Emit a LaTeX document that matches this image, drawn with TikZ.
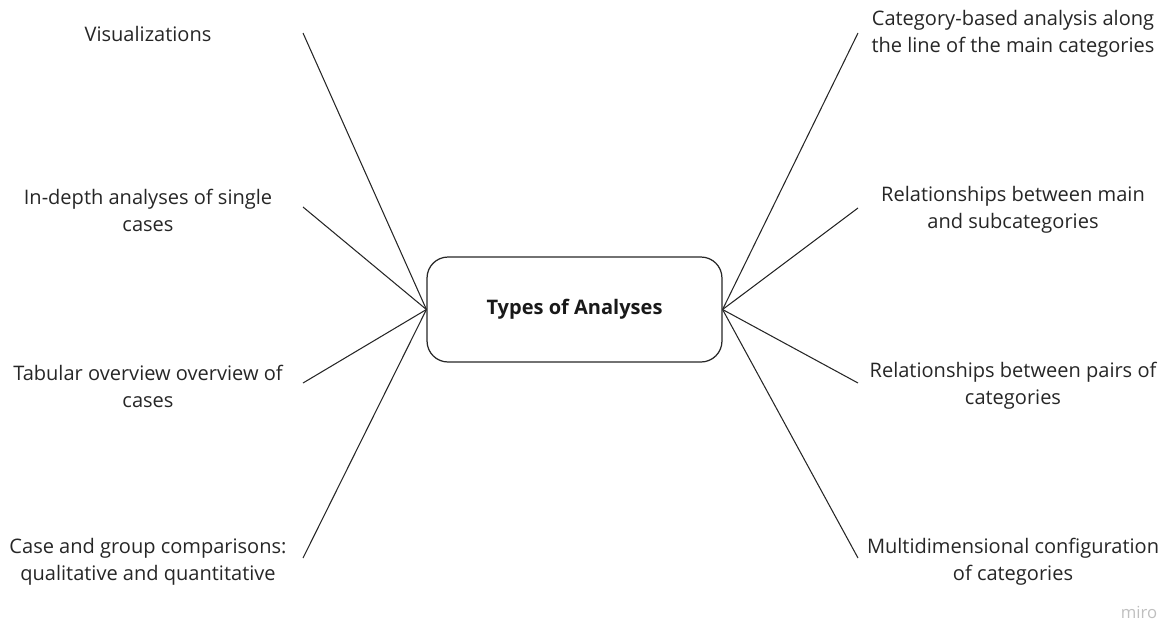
\documentclass[tikz,border=0pt]{standalone}
\usepackage{fontspec}
\setmainfont{Open Sans}
\begin{document}
\begin{tikzpicture}[x=0.02cm,y=-0.02cm,
    topic/.style={align=center,font=\fontsize{11.4}{15.3}\selectfont,text=black!85},
    hub/.style={draw=black!85,line width=0.7pt,rounded corners=0.42cm,minimum width=5.9cm,minimum height=2.1cm,font=\bfseries\fontsize{11.4}{13}\selectfont,text=black!90},
    spoke/.style={draw=black!85,line width=0.6pt}]
    \useasboundingbox (0,0) rectangle (1165,620);
    \node [hub] (hub) at (574.5,309.5) {Types of Analyses};
    % left side
    \node [topic] (vis) at (148,34) {Visualizations};
    \node [topic] (depth) at (148,210) {In-depth analyses of single\\cases};
    \node [topic] (tab) at (148,386) {Tabular overview overview of\\cases};
    \node [topic] (comp) at (148,562) {Case and group comparisons:\\qualitative and quantitative};
    % right side
    \node [topic] (cat) at (1013,34) {Category-based analysis along\\the line of the main categories};
    \node [topic] (sub) at (1013,210) {Relationships between main\\and subcategories};
    \node [topic] (pairs) at (1013,386) {Relationships between pairs of\\categories};
    \node [topic] (multi) at (1013,562) {Multidimensional configuration\\of categories};
    % free ends of the spokes
    \coordinate (l1) at (303,33);
    \coordinate (l2) at (303,207);
    \coordinate (l3) at (303,383);
    \coordinate (l4) at (303,558);
    \coordinate (r1) at (858,33);
    \coordinate (r2) at (858,208);
    \coordinate (r3) at (858,383);
    \coordinate (r4) at (858,558);
    \foreach \e in {l1,l2,l3,l4}
        \draw [spoke] (hub.west) -- (\e);
    \foreach \e in {r1,r2,r3,r4}
        \draw [spoke] (hub.east) -- (\e);
    \node [text=black!25,font=\fontsize{9.5}{11}\selectfont] (miro) at (1139,612) {miro};
\end{tikzpicture}
\end{document}
